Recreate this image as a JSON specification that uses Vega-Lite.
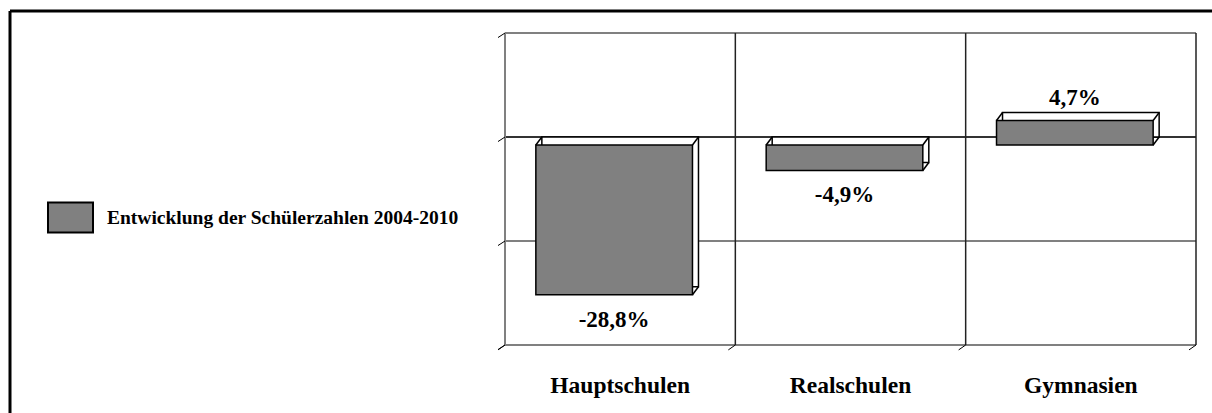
{
  "$schema": "https://vega.github.io/schema/vega-lite/v6.json",
  "width": 1202,
  "height": 402,
  "autosize": {"type": "none"},
  "padding": {"left": 10, "top": 11, "right": 0, "bottom": 0},
  "background": "white",
  "config": {
    "view": {"stroke": "black", "strokeWidth": 3, "strokeDash": [1202, 1604, 402, 0]},
    "font": "Liberation Serif",
    "locale": {"number": {"decimal": ",", "thousands": ".", "grouping": [3], "currency": ["", " €"], "minus": "-", "percent": "%"}}
  },
  "datasets": {
    "schulen": [
      {"Schulart": "Hauptschulen", "Veraenderung": -0.288, "Reihe": "Entwicklung der Schülerzahlen 2004-2010"},
      {"Schulart": "Realschulen", "Veraenderung": -0.049, "Reihe": "Entwicklung der Schülerzahlen 2004-2010"},
      {"Schulart": "Gymnasien", "Veraenderung": 0.047, "Reihe": "Entwicklung der Schülerzahlen 2004-2010"}
    ],
    "raster": [{"wert": 0.2}, {"wert": 0}, {"wert": -0.2}, {"wert": -0.4}],
    "grenzen": [{"schulart": "Hauptschulen"}, {"schulart": "Realschulen"}, {"schulart": "Gymnasien"}]
  },
  "layer": [
    {
      "data": {"name": "raster"},
      "transform": [{"filter": "datum.wert != 0"}],
      "mark": {"type": "rule", "color": "#808080", "strokeWidth": 2},
      "encoding": {
        "x": {"datum": "Hauptschulen", "type": "nominal", "bandPosition": 0,
          "scale": {"type": "band", "domain": ["Hauptschulen", "Realschulen", "Gymnasien"], "range": [495, 1186], "paddingInner": 0, "paddingOuter": 0},
          "axis": {"orient": "bottom", "offset": -69, "domain": false, "ticks": false, "grid": false, "title": null, "labelAngle": 0,
            "labelFont": "Liberation Serif", "labelFontWeight": "bold", "labelFontSize": 23.5, "labelColor": "black",
            "labelBaseline": "alphabetic", "labelPadding": 48, "labelDx": -6}},
        "x2": {"datum": "Gymnasien", "bandPosition": 1},
        "y": {"field": "wert", "type": "quantitative",
          "scale": {"domain": [-0.4, 0.2], "range": [334, 22], "nice": false, "zero": false},
          "axis": null}
      }
    },
    {
      "data": {"name": "raster"},
      "transform": [{"filter": "datum.wert == 0"}],
      "mark": {"type": "rule", "color": "#333333", "strokeWidth": 2},
      "encoding": {
        "x": {"datum": "Hauptschulen", "type": "nominal", "bandPosition": 0},
        "x2": {"datum": "Gymnasien", "bandPosition": 1},
        "y": {"field": "wert", "type": "quantitative"}
      }
    },
    {
      "data": {"name": "grenzen"},
      "transform": [{"filter": "datum.schulart != 'Hauptschulen'"}],
      "mark": {"type": "rule", "color": "#222222", "strokeWidth": 1.5},
      "encoding": {
        "x": {"field": "schulart", "type": "nominal", "bandPosition": 0},
        "y": {"datum": 0.2, "type": "quantitative"},
        "y2": {"datum": -0.4}
      }
    },
    {
      "data": {"name": "grenzen"},
      "transform": [{"filter": "datum.schulart == 'Gymnasien'"}],
      "mark": {"type": "rule", "color": "#222222", "strokeWidth": 1.5},
      "encoding": {
        "x": {"field": "schulart", "type": "nominal", "bandPosition": 1},
        "y": {"datum": 0.2, "type": "quantitative"},
        "y2": {"datum": -0.4}
      }
    },
    {
      "data": {"name": "grenzen"},
      "transform": [{"filter": "datum.schulart == 'Hauptschulen'"}],
      "mark": {"type": "rule", "color": "#808080", "strokeWidth": 2},
      "encoding": {
        "x": {"field": "schulart", "type": "nominal", "bandPosition": 0},
        "y": {"datum": 0.2, "type": "quantitative"},
        "y2": {"datum": -0.4}
      }
    },
    {
      "data": {"name": "raster"},
      "mark": {"type": "point", "shape": "M0,0L-1,0.65", "size": 196, "filled": false, "stroke": "black", "strokeWidth": 1, "opacity": 1},
      "encoding": {
        "x": {"datum": "Hauptschulen", "type": "nominal", "bandPosition": 0},
        "y": {"field": "wert", "type": "quantitative"}
      }
    },
    {
      "data": {"name": "grenzen"},
      "mark": {"type": "point", "shape": "M0,0L-1,0.7", "size": 196, "filled": false, "stroke": "black", "strokeWidth": 1, "opacity": 1},
      "encoding": {
        "x": {"field": "schulart", "type": "nominal", "bandPosition": 0},
        "y": {"datum": -0.4, "type": "quantitative"}
      }
    },
    {
      "data": {"name": "grenzen"},
      "transform": [{"filter": "datum.schulart == 'Gymnasien'"}],
      "mark": {"type": "point", "shape": "M0,0L-1,0.7", "size": 196, "filled": false, "stroke": "black", "strokeWidth": 1, "opacity": 1},
      "encoding": {
        "x": {"field": "schulart", "type": "nominal", "bandPosition": 1},
        "y": {"datum": -0.4, "type": "quantitative"}
      }
    },
    {
      "data": {"name": "schulen"},
      "mark": {"type": "bar", "fill": "white", "stroke": "black", "strokeWidth": 1.5, "width": {"band": 0.68}},
      "encoding": {
        "x": {"field": "Schulart", "type": "nominal"},
        "y": {"field": "Veraenderung", "type": "quantitative"}
      }
    },
    {
      "data": {"name": "schulen"},
      "mark": {"type": "bar", "stroke": "black", "strokeWidth": 1.5, "width": {"band": 0.68}, "xOffset": -6, "yOffset": 8, "y2Offset": 8, "opacity": 1},
      "encoding": {
        "x": {"field": "Schulart", "type": "nominal"},
        "y": {"field": "Veraenderung", "type": "quantitative"},
        "color": {"field": "Reihe", "type": "nominal",
          "scale": {"range": ["#808080"]},
          "legend": {"orient": "none", "legendX": 37, "legendY": 183, "title": null, "padding": 0,
            "symbolType": "M-1,-0.667H1V0.667H-1Z", "symbolSize": 2025, "symbolStrokeColor": "black", "symbolStrokeWidth": 2,
            "symbolFillColor": "#808080", "symbolOpacity": 1,
            "labelFont": "Liberation Serif", "labelFontWeight": "bold", "labelFontSize": 19.5, "labelColor": "black",
            "labelOffset": 13, "labelLimit": 0}}
      }
    },
    {
      "data": {"name": "schulen"},
      "mark": {"type": "point", "shape": "M0,0L-0.75,1", "size": 256, "filled": false, "stroke": "black", "strokeWidth": 1.5, "opacity": 1},
      "encoding": {
        "x": {"field": "Schulart", "type": "nominal", "bandPosition": 0.84},
        "y": {"field": "Veraenderung", "type": "quantitative"}
      }
    },
    {
      "data": {"name": "schulen"},
      "mark": {"type": "point", "shape": "M0,0L-0.75,1", "size": 256, "filled": false, "stroke": "black", "strokeWidth": 1.5, "opacity": 1},
      "encoding": {
        "x": {"field": "Schulart", "type": "nominal", "bandPosition": 0.84},
        "y": {"datum": 0, "type": "quantitative"}
      }
    },
    {
      "data": {"name": "schulen"},
      "transform": [{"filter": "datum.Veraenderung > 0"}],
      "mark": {"type": "point", "shape": "M0,0L-0.75,1", "size": 256, "filled": false, "stroke": "black", "strokeWidth": 1.5, "opacity": 1},
      "encoding": {
        "x": {"field": "Schulart", "type": "nominal", "bandPosition": 0.16},
        "y": {"field": "Veraenderung", "type": "quantitative"}
      }
    },
    {
      "data": {"name": "schulen"},
      "transform": [{"filter": "datum.Veraenderung < 0"}],
      "mark": {"type": "point", "shape": "M0,0L-0.75,1", "size": 256, "filled": false, "stroke": "black", "strokeWidth": 1.5, "opacity": 1},
      "encoding": {
        "x": {"field": "Schulart", "type": "nominal", "bandPosition": 0.16},
        "y": {"datum": 0, "type": "quantitative"}
      }
    },
    {
      "data": {"name": "schulen"},
      "transform": [{"filter": "datum.Veraenderung < 0"}],
      "mark": {"type": "text", "font": "Liberation Serif", "fontWeight": "bold", "fontSize": 23, "color": "black", "baseline": "alphabetic", "align": "center", "dx": -6, "dy": 40},
      "encoding": {
        "x": {"field": "Schulart", "type": "nominal"},
        "y": {"field": "Veraenderung", "type": "quantitative"},
        "text": {"field": "Veraenderung", "type": "quantitative", "format": ".1%"}
      }
    },
    {
      "data": {"name": "schulen"},
      "transform": [{"filter": "datum.Veraenderung > 0"}],
      "mark": {"type": "text", "font": "Liberation Serif", "fontWeight": "bold", "fontSize": 23, "color": "black", "baseline": "alphabetic", "align": "center", "dx": -6, "dy": -8},
      "encoding": {
        "x": {"field": "Schulart", "type": "nominal"},
        "y": {"field": "Veraenderung", "type": "quantitative"},
        "text": {"field": "Veraenderung", "type": "quantitative", "format": ".1%"}
      }
    }
  ]
}
